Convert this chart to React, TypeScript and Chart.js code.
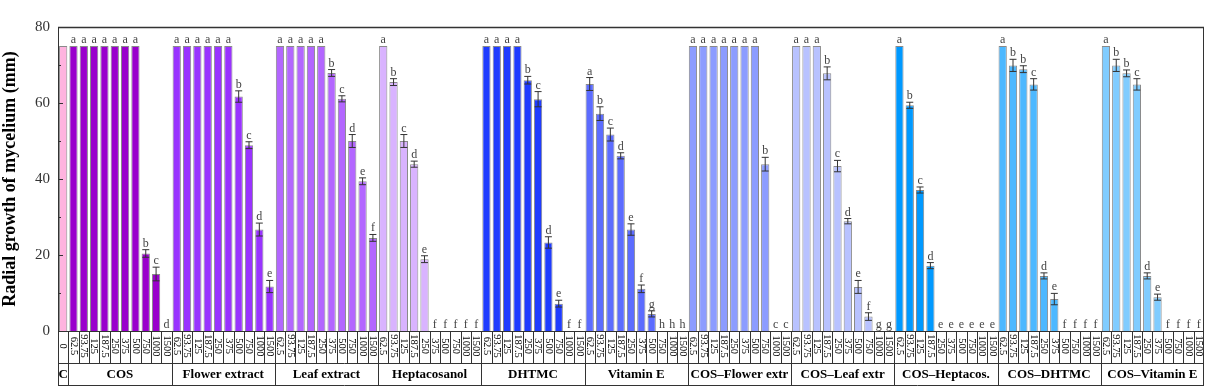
import React, { useEffect, useRef } from 'react';
import { Chart, registerables } from 'chart.js';
Chart.register(...registerables);

const concentrations = ['62.5', '93.75', '125', '187.5', '250', '375', '500', '750', '1000', '1500'];
const groupNames = ['COS', 'Flower extract', 'Leaf extract', 'Heptacosanol', 'DHTMC', 'Vitamin E',
  'COS–Flower extr', 'COS–Leaf extr', 'COS–Heptacos.', 'COS–DHTMC', 'COS–Vitamin E'];
const controlLabel = 'C';
const controlTick = '0';
const controlValue = 75;
const controlColor = '#ffb3df';

const cosValues = [75, 75, 75, 75, 75, 75, 75, 20.4, 15, 0];
const cosErrors = [0, 0, 0, 0, 0, 0, 0, 1, 1.8, 0];
const cosLetters = ['a', 'a', 'a', 'a', 'a', 'a', 'a', 'b', 'c', 'd'];

const flowerValues = [75, 75, 75, 75, 75, 75, 61.7, 48.9, 26.7, 11.7];
const flowerErrors = [0, 0, 0, 0, 0, 0, 1.5, 0.9, 1.7, 1.6];
const flowerLetters = ['a', 'a', 'a', 'a', 'a', 'a', 'b', 'c', 'd', 'e'];

const leafValues = [75, 75, 75, 75, 75, 67.9, 61.1, 50, 39.4, 24.5];
const leafErrors = [0, 0, 0, 0, 0, 0.9, 0.8, 1.7, 0.9, 0.9];
const leafLetters = ['a', 'a', 'a', 'a', 'a', 'b', 'c', 'd', 'e', 'f'];

const heptaValues = [75, 65.5, 50, 43.9, 18.9, 0, 0, 0, 0, 0];
const heptaErrors = [0, 0.9, 1.7, 0.8, 0.9, 0, 0, 0, 0, 0];
const heptaLetters = ['a', 'b', 'c', 'd', 'e', 'f', 'f', 'f', 'f', 'f'];

const dhtmcValues = [75, 75, 75, 75, 66, 61, 23.3, 7.2, 0, 0];
const dhtmcErrors = [0, 0, 0, 0, 1, 2, 1.5, 0.9, 0, 0];
const dhtmcLetters = ['a', 'a', 'a', 'a', 'b', 'c', 'd', 'e', 'f', 'f'];

const vitEValues = [65, 57.2, 51.7, 46.1, 26.7, 11.1, 4.5, 0, 0, 0];
const vitEErrors = [1.7, 1.8, 1.7, 0.8, 1.5, 1, 0.8, 0, 0, 0];
const vitELetters = ['a', 'b', 'c', 'd', 'e', 'f', 'g', 'h', 'h', 'h'];

const cosFlowerValues = [75, 75, 75, 75, 75, 75, 75, 43.9, 0, 0];
const cosFlowerErrors = [0, 0, 0, 0, 0, 0, 0, 1.8, 0, 0];
const cosFlowerLetters = ['a', 'a', 'a', 'a', 'a', 'a', 'a', 'b', 'c', 'c'];

const cosLeafValues = [75, 75, 75, 67.8, 43.4, 28.9, 11.6, 3.8, 0, 0];
const cosLeafErrors = [0, 0, 0, 1.7, 1.5, 0.7, 1.7, 1, 0, 0];
const cosLeafLetters = ['a', 'a', 'a', 'b', 'c', 'd', 'e', 'f', 'g', 'g'];

const cosHeptaValues = [75, 59.4, 37.1, 17.2, 0, 0, 0, 0, 0, 0];
const cosHeptaErrors = [0, 0.8, 0.8, 0.8, 0, 0, 0, 0, 0, 0];
const cosHeptaLetters = ['a', 'b', 'c', 'd', 'e', 'e', 'e', 'e', 'e', 'e'];

const cosDhtmcValues = [75, 69.9, 68.9, 64.9, 14.5, 8.4, 0, 0, 0, 0];
const cosDhtmcErrors = [0, 1.6, 0.9, 1.5, 0.8, 1.5, 0, 0, 0, 0];
const cosDhtmcLetters = ['a', 'b', 'b', 'c', 'd', 'e', 'f', 'f', 'f', 'f'];

const cosVitEValues = [75, 69.9, 67.8, 64.9, 14.5, 8.9, 0, 0, 0, 0];
const cosVitEErrors = [0, 1.6, 0.9, 1.5, 0.8, 0.8, 0, 0, 0, 0];
const cosVitELetters = ['a', 'b', 'b', 'c', 'd', 'e', 'f', 'f', 'f', 'f'];

const groupColors = ['#9900cc', '#9933ff', '#b366ff', '#d9b3ff', '#1f3cff', '#5c6cff',
  '#8c9cff', '#b8c2ff', '#0099ff', '#4db8ff', '#80ccff'];

const yTicks = [0, 20, 40, 60, 80];

const groupValues = [cosValues, flowerValues, leafValues, heptaValues, dhtmcValues, vitEValues,
  cosFlowerValues, cosLeafValues, cosHeptaValues, cosDhtmcValues, cosVitEValues];
const groupErrors = [cosErrors, flowerErrors, leafErrors, heptaErrors, dhtmcErrors, vitEErrors,
  cosFlowerErrors, cosLeafErrors, cosHeptaErrors, cosDhtmcErrors, cosVitEErrors];
const groupLetters = [cosLetters, flowerLetters, leafLetters, heptaLetters, dhtmcLetters, vitELetters,
  cosFlowerLetters, cosLeafLetters, cosHeptaLetters, cosDhtmcLetters, cosVitELetters];

const labels: string[] = [controlTick];
const values: number[] = [controlValue];
const errors: number[] = [0];
const letters: string[] = [''];
const colors: string[] = [controlColor];
groupNames.forEach((_, g) => {
  concentrations.forEach((c, i) => {
    labels.push(c);
    values.push(groupValues[g][i]);
    errors.push(groupErrors[g][i]);
    letters.push(groupLetters[g][i]);
    colors.push(groupColors[g]);
  });
});

const SERIF = '"Liberation Serif", "Times New Roman", serif';

const annotPlugin = {
  id: 'annot',
  afterDatasetsDraw(chart: any) {
    const ctx = chart.ctx as CanvasRenderingContext2D;
    const xs = chart.scales.x;
    const ys = chart.scales.y;
    const area = chart.chartArea;
    const meta = chart.getDatasetMeta(0);
    const n = labels.length;
    const step = (area.right - area.left) / n;
    ctx.save();
    // error bars and letters
    for (let i = 0; i < n; i++) {
      const bx = meta.data[i].x;
      const v = values[i];
      const e = errors[i];
      let top = ys.getPixelForValue(v);
      if (e > 0) {
        const yT = ys.getPixelForValue(v + e);
        const yB = ys.getPixelForValue(v - e);
        ctx.strokeStyle = '#333';
        ctx.lineWidth = 1;
        ctx.beginPath();
        ctx.moveTo(bx, yT); ctx.lineTo(bx, yB);
        ctx.moveTo(bx - 3.5, yT); ctx.lineTo(bx + 3.5, yT);
        ctx.moveTo(bx - 3.5, yB); ctx.lineTo(bx + 3.5, yB);
        ctx.stroke();
        top = yT;
      }
      if (letters[i]) {
        ctx.fillStyle = '#444';
        ctx.font = `12px ${SERIF}`;
        ctx.textAlign = 'center';
        ctx.textBaseline = 'alphabetic';
        ctx.fillText(letters[i], bx, top - 3);
      }
    }
    // frame
    ctx.strokeStyle = '#333';
    ctx.lineWidth = 1;
    ctx.strokeRect(area.left + 0.5, area.top + 0.5, area.right - area.left - 1, area.bottom - area.top);
    ctx.lineWidth = 1.5;
    ctx.beginPath();
    ctx.moveTo(area.left, area.top + 0.5); ctx.lineTo(area.right, area.top + 0.5);
    ctx.stroke();
    // y ticks (inward)
    ctx.lineWidth = 1;
    ctx.beginPath();
    for (let v = 0; v <= 80; v += 10) {
      const py = Math.round(ys.getPixelForValue(v)) + 0.5;
      const len = v % 20 === 0 ? 5 : 3;
      ctx.moveTo(area.left, py); ctx.lineTo(area.left + len, py);
    }
    ctx.stroke();
    // bottom table
    const row1 = area.bottom + 32;
    const row2 = area.bottom + 54;
    ctx.strokeStyle = '#333';
    ctx.beginPath();
    ctx.moveTo(area.left + 0.5, area.bottom); ctx.lineTo(area.left + 0.5, row2);
    ctx.moveTo(area.right - 0.5, area.bottom); ctx.lineTo(area.right - 0.5, row2);
    ctx.moveTo(area.left, row1 + 0.5); ctx.lineTo(area.right, row1 + 0.5);
    ctx.moveTo(area.left, row2 + 0.5); ctx.lineTo(area.right, row2 + 0.5);
    for (let i = 1; i < n; i++) {
      const px = Math.round(xs.getPixelForValue(i) - step / 2) + 0.5;
      ctx.moveTo(px, area.bottom); ctx.lineTo(px, row1);
      if ((i - 1) % concentrations.length === 0) {
        ctx.moveTo(px, row1); ctx.lineTo(px, row2);
      }
    }
    ctx.stroke();
    // rotated tick labels
    ctx.fillStyle = '#000';
    ctx.font = `10.5px ${SERIF}`;
    ctx.textAlign = 'center';
    ctx.textBaseline = 'middle';
    const midY = (area.bottom + row1) / 2 - 1;
    for (let i = 0; i < n; i++) {
      const px = xs.getPixelForValue(i);
      ctx.save();
      ctx.translate(px, midY);
      ctx.rotate(Math.PI / 2);
      ctx.fillText(labels[i], 0, 0);
      ctx.restore();
    }
    // group labels
    ctx.font = `bold 13px ${SERIF}`;
    const gy = (row1 + row2) / 2 + 1;
    ctx.fillText(controlLabel, xs.getPixelForValue(0), gy);
    groupNames.forEach((name, g) => {
      const a = 1 + g * concentrations.length;
      const b = a + concentrations.length - 1;
      const cx = (xs.getPixelForValue(a) + xs.getPixelForValue(b)) / 2;
      ctx.fillText(name, cx, gy);
    });
    ctx.restore();
  },
};

export default function App() {
  const ref = useRef<HTMLCanvasElement>(null);
  useEffect(() => {
    if (!ref.current) return;
    const chart = new Chart(ref.current, {
      type: 'bar',
      data: {
        labels,
        datasets: [{
          data: values,
          backgroundColor: colors,
          borderColor: '#8a8a8a',
          borderWidth: 1,
          barPercentage: 0.8,
          categoryPercentage: 1,
        }],
      },
      options: {
        animation: false,
        responsive: false,
        devicePixelRatio: 1,
        layout: { padding: { left: 0, right: 15, top: 27, bottom: 61 } },
        plugins: { legend: { display: false }, tooltip: { enabled: false } },
        scales: {
          x: { display: false, offset: true, grid: { display: false } },
          y: {
            min: 0,
            max: 80,
            afterFit: (s: any) => { s.width = 58; },
            afterBuildTicks: (s: any) => { s.ticks = yTicks.map((v) => ({ value: v })); },
            grid: { display: false, drawTicks: false },
            border: { display: false },
            ticks: {
              padding: 8,
              color: '#333',
              font: { family: SERIF, size: 15 },
            },
            title: {
              display: true,
              text: 'Radial growth of mycelium (mm)',
              color: '#000',
              font: { family: SERIF, size: 18, weight: 'bold' },
              padding: { top: 0, bottom: 4 },
            },
          },
        },
      },
      plugins: [annotPlugin],
    });
    return () => chart.destroy();
  }, []);
  return (
    <div style={{ position: 'absolute', left: 0, top: 0, width: 1219, height: 392, background: '#fff' }}>
      <canvas ref={ref} width={1219} height={392} style={{ width: 1219, height: 392 }} />
    </div>
  );
}
